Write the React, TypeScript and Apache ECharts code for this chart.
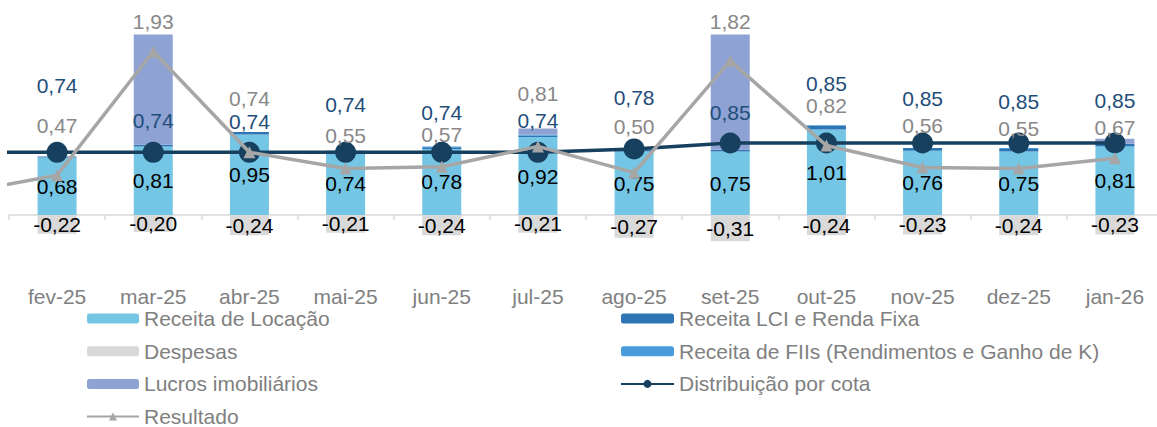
import React, { useEffect, useRef } from "react";
import * as echarts from "echarts";

// ---- data ----
const categorias = ["fev-25", "mar-25", "abr-25", "mai-25", "jun-25", "jul-25", "ago-25", "set-25", "out-25", "nov-25", "dez-25", "jan-26"];
const receitaLocacao = [0.68, 0.81, 0.95, 0.74, 0.78, 0.92, 0.75, 0.75, 1.01, 0.76, 0.75, 0.81];
const receitaLCI = [0.01, 0.02, 0.03, 0.02, 0.02, 0.02, 0.02, 0.02, 0.04, 0.03, 0.03, 0.03];
const receitaFII = [0.0, 0.0, 0.0, 0.0, 0.01, 0.01, 0.0, 0.0, 0.01, 0.0, 0.01, 0.0];
const lucrosImobiliarios = [0, 1.3, 0, 0, 0, 0.07, 0, 1.36, 0, 0, 0, 0.06];
const despesas = [-0.22, -0.2, -0.24, -0.21, -0.24, -0.21, -0.27, -0.31, -0.24, -0.23, -0.24, -0.23];
const distribuicao = [0.74, 0.74, 0.74, 0.74, 0.74, 0.74, 0.78, 0.85, 0.85, 0.85, 0.85, 0.85];
const resultado = [0.47, 1.93, 0.74, 0.55, 0.57, 0.81, 0.5, 1.82, 0.82, 0.56, 0.55, 0.67];
// previous month (jan-25), only its connecting segment is visible at the left edge
const distribuicaoAnterior = 0.74;
const resultadoAnterior = 0.26;

// ---- label nudges (px, vertical) ----
const distLabelDy = [-67, -32, -31, -48, -40, -32, -51, -31, -60, -45, -42, -43];
const resLabelDy = [-50, -30, -54, -33, -32, -53, -46, -39, -40, -42, -40, -31];

const FONT = '"Liberation Sans", Arial, sans-serif';
const fmt = (v: number) => v.toFixed(2).replace(".", ",");

export default function App() {
  const ref = useRef<HTMLDivElement>(null);
  useEffect(() => {
    if (!ref.current) return;
    const chart = echarts.init(ref.current, null, { renderer: "svg" });
    const n = categorias.length;

    const lineData = (prev: number, vals: number[], dys: number[]) => [
      { value: [-1, prev], symbol: "none", label: { show: false } },
      ...vals.map((v, i) => ({ value: [i, v], label: { offset: [0, dys[i]] } })),
    ];

    const barBase = {
      type: "bar",
      stack: "total",
      xAxisIndex: 0,
      barWidth: 39,
    };

    const legendCommon = {
      top: 303,
      height: 130,
      orient: "vertical",
      itemHeight: 10,
      itemGap: 11.7,
      selectedMode: false,
      textStyle: { color: "#808080", fontSize: 21, fontFamily: FONT },
    };

    chart.setOption({
      animation: false,
      textStyle: { fontFamily: FONT },
      grid: { left: 9, width: 1154, top: 3.25, height: 254.1, outerBoundsMode: "none", containLabel: false },
      xAxis: [
        {
          type: "category",
          data: categorias,
          position: "bottom",
          axisLine: { onZero: true, lineStyle: { color: "#D9D9D9", width: 1.5 } },
          axisTick: { show: true, length: 5, alignWithLabel: false, interval: 0, lineStyle: { color: "#D9D9D9", width: 1.5 } },
          axisLabel: { show: false },
          splitLine: { show: false },
        },
        {
          type: "category",
          data: categorias,
          position: "bottom",
          axisLine: { show: false, onZero: false },
          axisTick: { show: false },
          axisLabel: { show: true, interval: 0, margin: 28.5, color: "#808080", fontSize: 21, fontFamily: FONT },
          splitLine: { show: false },
        },
        {
          type: "value",
          min: -0.5,
          max: n - 0.5,
          show: false,
          splitLine: { show: false },
        },
      ],
      yAxis: {
        type: "value",
        min: -0.5,
        max: 2.5,
        show: false,
        splitLine: { show: false },
      },
      legend: [
        {
          ...legendCommon,
          left: 81,
          itemWidth: 52,
          data: ["Receita de Locação", "Despesas", "Lucros imobiliários", "Resultado"],
        },
        {
          ...legendCommon,
          left: 615,
          itemWidth: 53,
          data: ["Receita LCI e Renda Fixa", "Receita de FIIs (Rendimentos e Ganho de K)", "Distribuição por cota"],
        },
      ],
      series: [
        {
          ...barBase,
          name: "Receita de Locação",
          data: receitaLocacao,
          itemStyle: { color: "#75C6E4" },
          label: {
            show: true,
            position: "inside",
            color: "#000000",
            fontSize: 21,
            fontFamily: FONT,
            formatter: (p: any) => fmt(p.value),
          },
        },
        {
          ...barBase,
          name: "Receita LCI e Renda Fixa",
          data: receitaLCI,
          itemStyle: { color: "#2E75B6" },
        },
        {
          ...barBase,
          name: "Receita de FIIs (Rendimentos e Ganho de K)",
          data: receitaFII,
          itemStyle: { color: "#4A9BD9" },
        },
        {
          ...barBase,
          name: "Lucros imobiliários",
          data: lucrosImobiliarios,
          itemStyle: { color: "#8EA2D4" },
        },
        {
          ...barBase,
          name: "Despesas",
          data: despesas,
          itemStyle: { color: "#D9D9D9" },
          label: {
            show: true,
            position: "inside",
            color: "#000000",
            fontSize: 21,
            fontFamily: FONT,
            formatter: (p: any) => fmt(p.value),
          },
        },
        {
          type: "line",
          name: "Distribuição por cota",
          xAxisIndex: 2,
          data: lineData(distribuicaoAnterior, distribuicao, distLabelDy),
          symbol: "circle",
          symbolSize: 21,
          clip: true,
          lineStyle: { color: "#17405F", width: 3.5 },
          itemStyle: { color: "#17405F" },
          label: {
            show: true,
            position: "inside",
            color: "#1F4E79",
            fontSize: 21,
            fontFamily: FONT,
            formatter: (p: any) => fmt(p.value[1]),
          },
          z: 3,
        },
        {
          type: "line",
          name: "Resultado",
          xAxisIndex: 2,
          data: lineData(resultadoAnterior, resultado, resLabelDy),
          symbol: "triangle",
          symbolSize: 12,
          clip: true,
          lineStyle: { color: "#A6A6A6", width: 3.5 },
          itemStyle: { color: "#A6A6A6" },
          label: {
            show: true,
            position: "inside",
            color: "#888888",
            fontSize: 21,
            fontFamily: FONT,
            formatter: (p: any) => fmt(p.value[1]),
          },
          z: 4,
        },
      ],
    });
    return () => chart.dispose();
  }, []);

  return (
    <div
      ref={ref}
      style={{ position: "fixed", left: 0, top: 0, width: 1157, height: 427, background: "#ffffff" }}
    />
  );
}
